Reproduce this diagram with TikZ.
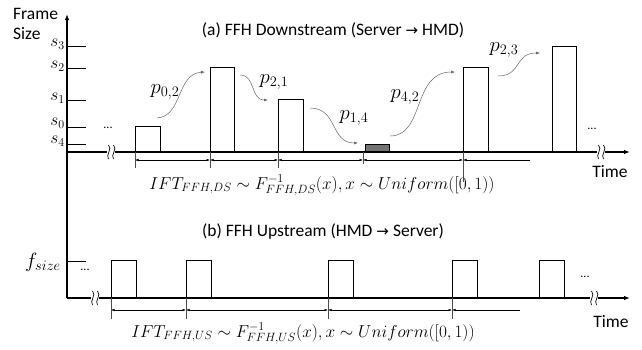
\documentclass[tikz,border=0pt]{standalone}
\usepackage{fontspec}
\setmainfont{Carlito}
\newfontfamily\arrfont{DejaVu Sans}
\usetikzlibrary{arrows.meta}
\tikzset{
  ax/.style={line width=1.4pt,-{Latex[length=6pt,width=4.5pt]}},
  tickln/.style={line width=0.6pt},
  barbox/.style={draw,line width=0.9pt,fill=white,inner sep=0pt,anchor=south west},
  dimln/.style={line width=0.5pt,{Latex[length=3.5pt,width=2.5pt]}-{Latex[length=3.5pt,width=2.5pt]}},
  dimone/.style={line width=0.5pt,{Latex[length=3.5pt,width=2.5pt]}-},
  extln/.style={line width=0.5pt,black!70},
  curv/.style={black!60,line width=0.5pt,-{Latex[length=4pt,width=3pt]}},
  lbl/.style={font=\fontsize{17.5}{21}\selectfont,inner sep=0pt},
  slbl/.style={font=\fontsize{18}{22}\selectfont,inner sep=0pt},
  flbl/.style={font=\fontsize{20}{24}\selectfont,inner sep=0pt},
  plbl/.style={font=\fontsize{22}{26}\selectfont,inner sep=0pt},
  dotlbl/.style={font=\fontsize{12}{14}\selectfont,inner sep=0pt},
  brk/.pic={
    \fill[white] (-3,-7) rectangle (5,7);
    \draw[line width=0.7pt] (-1.5,-7) .. controls (3,-3) and (-5,3) .. (-1.5,7);
    \draw[line width=0.7pt] (3.5,-7) .. controls (8,-3) and (0,3) .. (3.5,7);
  }
}
\begin{document}
\begin{tikzpicture}[x=1pt,y=-1pt]
\useasboundingbox (0,0) rectangle (642,349);
% axes
\coordinate (o) at (67,298);
\coordinate (ytop) at (67,14);
\coordinate (a0) at (67,152);
\coordinate (aend) at (630,152);
\coordinate (bend) at (630,298);
\draw[ax] (o) -- (ytop);
\draw[ax] (a0) -- (aend);
\draw[ax] (o) -- (bend);
\pic at (110,152) {brk};
\pic at (600,152) {brk};
\pic at (94,298) {brk};
\pic at (593,298) {brk};
% axis labels
\node[lbl,anchor=west] (frame) at (13,14) {Frame};
\node[lbl,anchor=west] (size) at (13,34) {Size};
\node[lbl] (time1) at (610,172) {Time};
\node[lbl] (time2) at (611,322) {Time};
% ticks (a)
\foreach \yy/\ly/\nm/\s in {46/44/t3/3,68/66/t2/2,100/98/t1/1,127/123/t0/0,144/141/t4/4}{
  \coordinate (\nm a) at (67,\yy);
  \coordinate (\nm b) at (86,\yy);
  \draw[tickln] (\nm a) -- (\nm b);
  \node[slbl,anchor=east] (\nm l) at (65,\ly) {$s_{\s}$};
}
% tick (b)
\coordinate (fa) at (67,261);
\coordinate (fb) at (86,261);
\draw[tickln] (fa) -- (fb);
\node[flbl,anchor=east] (fl) at (61,262) {$f_{size}$};
% titles
\node[lbl] (ta) at (333,30) {(a) FFH Downstream (Server {\arrfont\fontsize{15}{18}\selectfont →} HMD)};
\node[lbl] (tb) at (323,232) {(b) FFH Upstream (HMD {\arrfont\fontsize{15}{18}\selectfont →} Server)};
% bars (a)
\node[barbox,minimum width=25pt,minimum height=25pt] (a1) at (135,152) {};
\node[barbox,minimum width=24pt,minimum height=84pt] (a2) at (210,152) {};
\node[barbox,minimum width=25pt,minimum height=52pt] (a3) at (278,152) {};
\node[barbox,minimum width=24pt,minimum height=7pt,fill=black!55] (a4) at (365,152) {};
\node[barbox,minimum width=25pt,minimum height=84pt] (a5) at (463,152) {};
\node[barbox,minimum width=24pt,minimum height=105pt] (a6) at (552,152) {};
% dots
\node[dotlbl] (d1) at (108,128) {...};
\node[dotlbl] (d2) at (592,129) {...};
\node[dotlbl] (d3) at (85,270) {...};
\node[dotlbl] (d4) at (585,277) {...};
% extension lines (a)
\foreach \xx/\nm/\ln in {135/e1/168,210/e2/168,278/e3/168,363/e4/164,463/e5/182}{
  \coordinate (\nm t) at (\xx,152);
  \coordinate (\nm b) at (\xx,\ln);
  \draw[extln] (\nm t) -- (\nm b);
  \coordinate (\nm m) at (\xx,160);
}
\coordinate (e6m) at (530,160);
\draw[dimln] (e1m) -- (e2m);
\draw[dimln] (e2m) -- (e3m);
\draw[dimln] (e3m) -- (e4m);
\draw[dimln] (e4m) -- (e5m);
\draw[dimone] (e5m) -- (e6m);
% curved arrows
\coordinate (c02a) at (157,118); \coordinate (c02b) at (205,72);
\coordinate (c21a) at (240,75);  \coordinate (c21b) at (268,100);
\coordinate (c14a) at (310,108); \coordinate (c14b) at (358,143);
\coordinate (c42a) at (390,136); \coordinate (c42b) at (455,72);
\coordinate (c23a) at (498,76);  \coordinate (c23b) at (540,53);
\draw[curv] (c02a) .. controls (183,116) and (176,74) .. (c02b);
\draw[curv] (c21a) .. controls (256,75) and (250,100) .. (c21b);
\draw[curv] (c14a) .. controls (338,108) and (330,143) .. (c14b);
\draw[curv] (c42a) .. controls (425,136) and (412,72) .. (c42b);
\draw[curv] (c23a) .. controls (522,76) and (514,53) .. (c23b);
\node[plbl] (p02) at (165,92) {$p_{0,2}$};
\node[plbl] (p21) at (274,82) {$p_{2,1}$};
\node[plbl] (p14) at (354,118) {$p_{1,4}$};
\node[plbl] (p42) at (405,97) {$p_{4,2}$};
\node[plbl] (p23) at (504,50) {$p_{2,3}$};
% formula (a)
\node[lbl] (fa1) at (322,185) {$IFT_{FFH,DS}\sim F^{-1}_{FFH,DS}(x), x\sim Uniform([0,1))$};
% bars (b)
\foreach \xx/\nm in {111/b1,186/b2,328/b3,452/b4,539/b5}{
  \node[barbox,minimum width=25pt,minimum height=37pt] (\nm) at (\xx,298) {};
}
% extension lines (b)
\foreach \xx/\nm in {111/g1,186/g2,328/g3,452/g4}{
  \coordinate (\nm t) at (\xx,298);
  \coordinate (\nm b) at (\xx,319);
  \draw[extln] (\nm t) -- (\nm b);
  \coordinate (\nm m) at (\xx,310);
}
\coordinate (g5m) at (520,310);
\draw[dimln] (g1m) -- (g2m);
\draw[dimln] (g2m) -- (g3m);
\draw[dimln] (g3m) -- (g4m);
\draw[dimone] (g4m) -- (g5m);
% formula (b)
\node[lbl] (fb1) at (303,333) {$IFT_{FFH,US}\sim F^{-1}_{FFH,US}(x), x\sim Uniform([0,1))$};
\end{tikzpicture}
\end{document}
